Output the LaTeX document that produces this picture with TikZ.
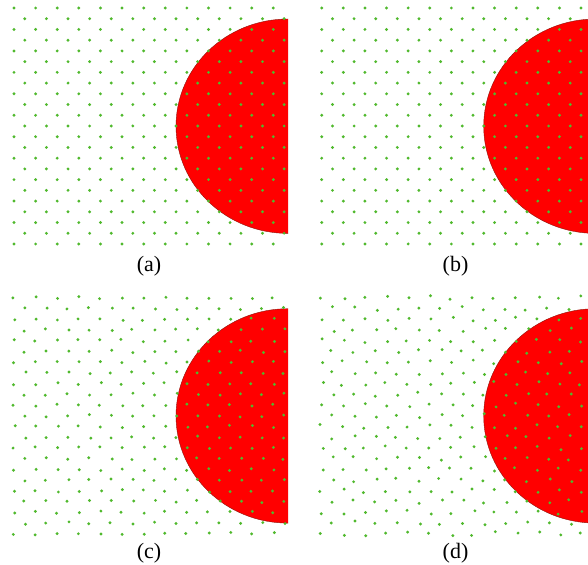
\documentclass[tikz,border=0pt]{standalone}
\usepackage{fontspec}
\setmainfont{Liberation Serif}
\definecolor{dotgreen}{RGB}{80,185,45}
\definecolor{discred}{RGB}{255,0,0}
\definecolor{discedge}{RGB}{140,20,10}
\tikzset{
  greendot/.style={fill=dotgreen},
  reddisc/.style={fill=discred, draw=discedge, line width=0.4pt},
  panellabel/.style={font=\fontsize{22}{26}\selectfont, inner sep=0pt}
}
\newcommand{\mypanel}[4]{%
  \begin{scope}[shift={(#1,#2)}]
    \begin{scope}
      \ifnum#4=1 \clip (0,0) rectangle (288,260);\fi
      \path[reddisc] (288,126.2) ellipse [x radius=112, y radius=107.2];
    \end{scope}
    \foreach \j in {0,...,22}{
      \foreach \k in {0,...,12}{
        \pgfmathsetmacro\xx{14+10.8*mod(\j,2)+21.61*\k+#3*(rnd-0.5)}
        \pgfmathsetmacro\yy{8+10.727*\j+#3*(rnd-0.5)}
        \fill[greendot] (\xx,\yy) circle[radius=1.6];
      }}
  \end{scope}}
\begin{document}
\begin{tikzpicture}[x=1pt,y=-1pt]
\pgfmathsetseed{7}
\clip (0,0) rectangle (588,564);
\fill[white] (0,0) rectangle (588,564);
\mypanel{0}{0}{0}{1}
\mypanel{307.7}{0}{0}{0}
\mypanel{0}{289.7}{2.5}{1}
\mypanel{307.7}{289.7}{4}{0}
\node[panellabel] (la) at (149,266.5) {(a)};
\node[panellabel] (lb) at (455.5,266.5) {(b)};
\node[panellabel] (lc) at (149,553) {(c)};
\node[panellabel] (ld) at (455.5,553) {(d)};
\end{tikzpicture}
\end{document}
